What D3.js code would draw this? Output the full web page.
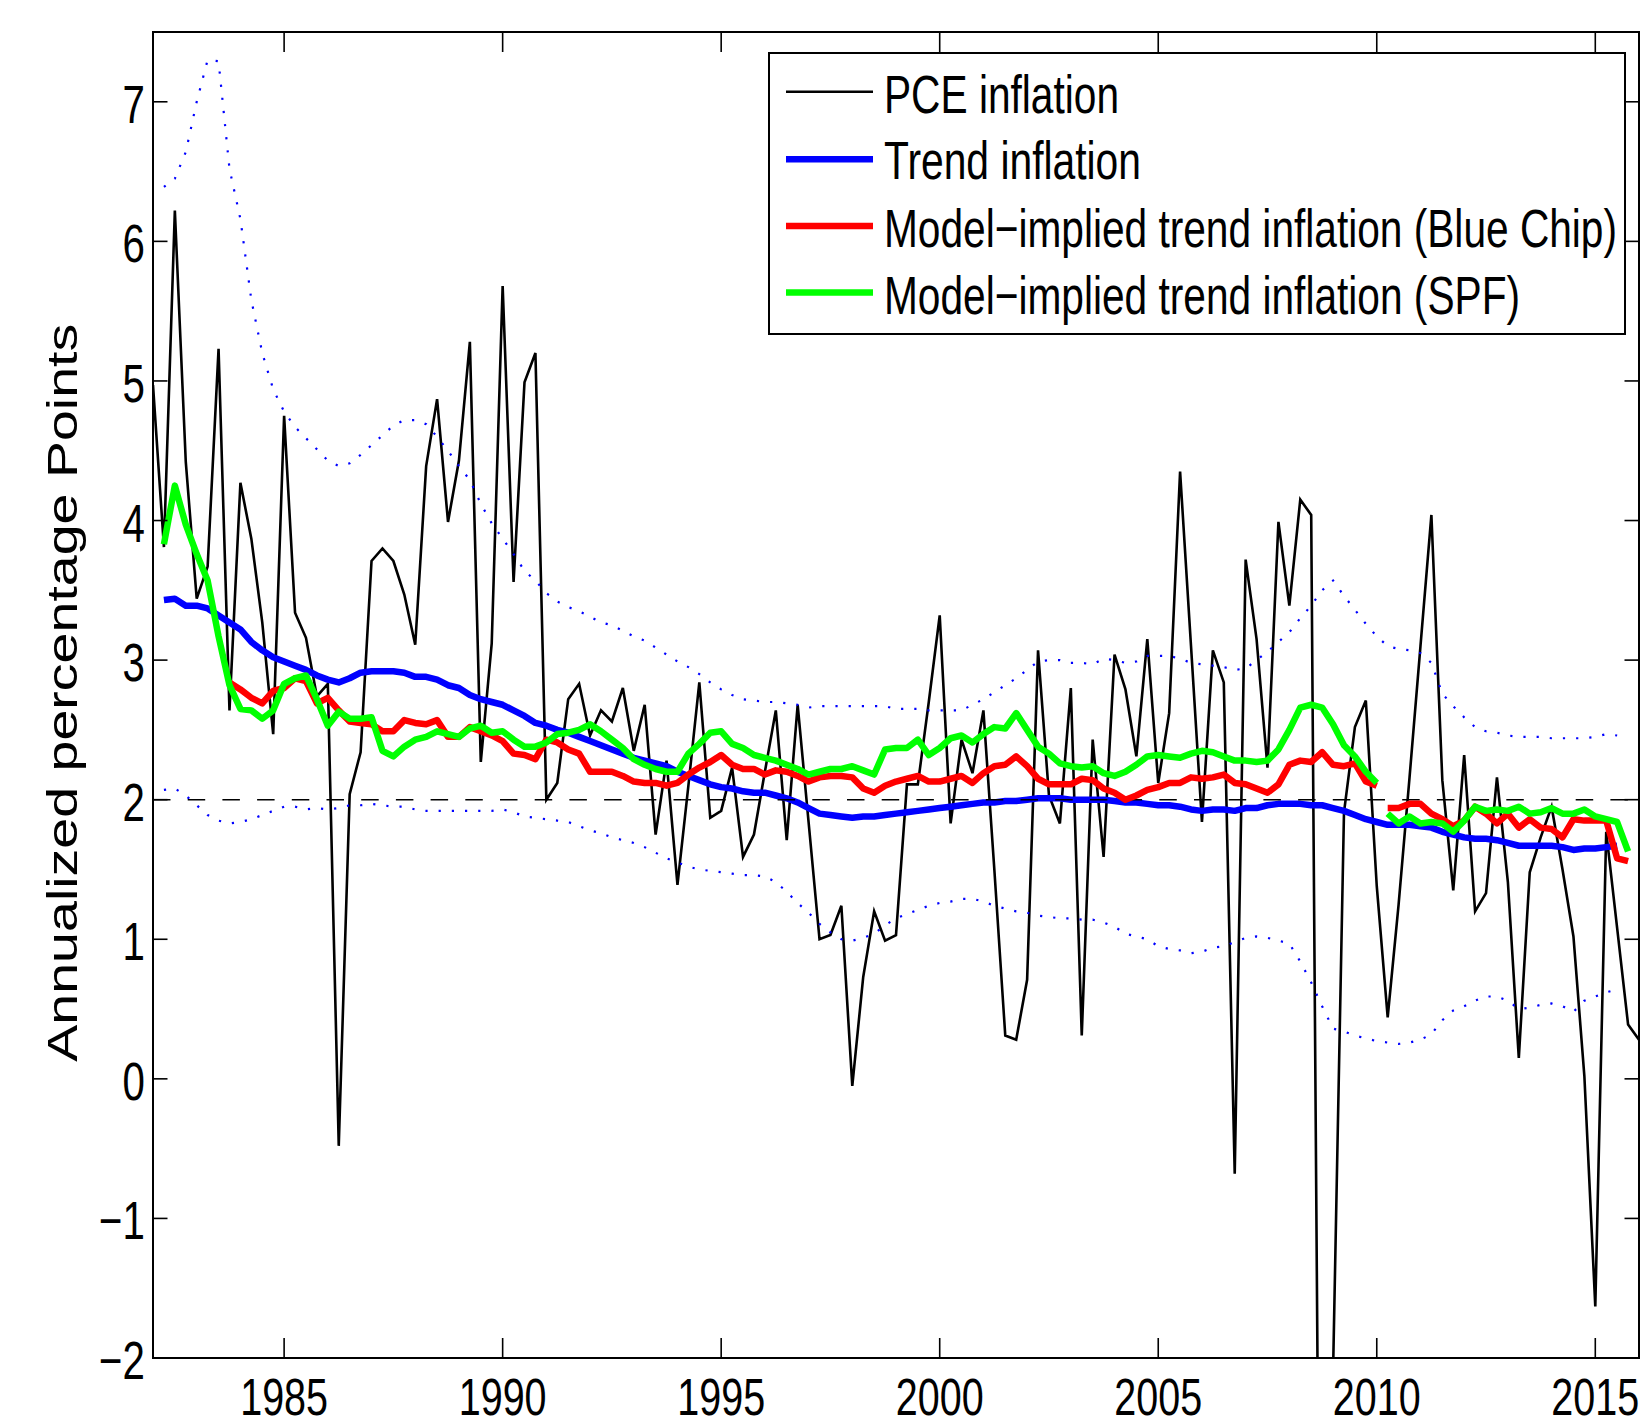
<!DOCTYPE html>
<html><head><meta charset="utf-8">
<script src="https://cdn.jsdelivr.net/npm/d3@7"></script>
<style>body{margin:0;background:#fff}svg{display:block}</style>
</head><body>
<svg id="chart" width="1645" height="1418"></svg>
<script>
// quarterly data; index 0 = 1982Q1 plotted at 1982.0
const baseYear = 1982;

// PCE inflation, quarters 0..136
const pceStart = 0;
const pce = [4.97,3.81,6.22,4.42,3.44,3.67,5.23,2.64,4.27,3.87,
3.27,2.47,4.75,3.34,3.16,2.74,2.83,-0.48,2.04,2.34,
3.71,3.80,3.71,3.47,3.11,4.39,4.87,3.99,4.43,5.28,
2.27,3.12,5.68,3.56,4.99,5.20,2.00,2.12,2.72,2.83,
2.46,2.64,2.56,2.80,2.35,2.68,1.75,2.28,1.39,2.10,
2.84,1.87,1.92,2.23,1.59,1.75,2.20,2.64,1.71,2.68,
1.84,1.00,1.03,1.24,-0.05,0.73,1.20,0.99,1.03,2.11,
2.11,2.70,3.32,1.83,2.43,2.19,2.64,1.50,0.31,0.28,
0.71,3.07,2.03,1.83,2.80,0.31,2.43,1.59,3.04,2.79,
2.31,3.15,2.12,2.62,4.35,3.10,1.84,3.07,2.84,-0.68,
3.72,3.15,2.23,3.99,3.39,4.15,4.04,-6.50,-2.10,1.91,
2.52,2.71,1.38,0.44,1.25,2.16,3.10,4.04,2.14,1.35,
2.32,1.20,1.33,2.16,1.41,0.15,1.48,1.73,1.95,1.50,
1.02,0.02,-1.63,1.77,1.08,0.39,0.28];

// Trend inflation and its bands, quarters 1..134
const trendStart = 1;
const trend = [3.43,3.44,3.39,3.39,3.37,3.32,3.27,3.22,3.13,3.07,
3.02,2.99,2.96,2.93,2.89,2.86,2.84,2.87,2.91,2.92,
2.92,2.92,2.91,2.88,2.88,2.86,2.82,2.80,2.75,2.72,
2.70,2.68,2.64,2.60,2.55,2.53,2.50,2.48,2.45,2.42,
2.39,2.36,2.33,2.30,2.28,2.26,2.24,2.20,2.17,2.14,
2.11,2.09,2.08,2.06,2.05,2.05,2.03,2.01,1.98,1.94,
1.90,1.89,1.88,1.87,1.88,1.88,1.89,1.90,1.91,1.92,
1.93,1.94,1.95,1.96,1.97,1.98,1.98,1.99,1.99,2.00,
2.01,2.01,2.01,2.00,2.00,2.00,2.00,1.99,1.98,1.98,
1.97,1.96,1.96,1.95,1.93,1.92,1.93,1.93,1.92,1.94,
1.94,1.96,1.97,1.97,1.97,1.96,1.96,1.94,1.92,1.89,
1.86,1.84,1.82,1.82,1.82,1.81,1.80,1.77,1.75,1.73,
1.72,1.72,1.71,1.69,1.67,1.67,1.67,1.67,1.66,1.64,
1.65,1.65,1.66,1.67];
const trendUpper = [6.39,6.45,6.64,7.00,7.30,7.29,6.52,6.16,5.58,5.20,
4.94,4.78,4.67,4.59,4.51,4.43,4.39,4.41,4.47,4.54,
4.61,4.68,4.72,4.72,4.69,4.60,4.50,4.39,4.29,4.12,
3.98,3.87,3.76,3.64,3.57,3.48,3.42,3.38,3.35,3.31,
3.27,3.25,3.21,3.17,3.14,3.09,3.04,2.99,2.95,2.90,
2.84,2.79,2.75,2.72,2.71,2.70,2.70,2.69,2.68,2.66,
2.67,2.67,2.67,2.67,2.67,2.67,2.67,2.65,2.65,2.65,
2.64,2.64,2.64,2.64,2.68,2.72,2.77,2.82,2.87,2.93,
2.99,3.00,3.00,2.98,2.98,2.97,3.01,3.00,2.98,2.99,
3.03,3.03,3.03,3.01,2.98,2.97,2.96,2.95,2.93,2.94,
3.00,3.06,3.13,3.20,3.30,3.39,3.50,3.57,3.46,3.36,
3.26,3.17,3.10,3.08,3.07,3.05,2.98,2.76,2.67,2.59,
2.52,2.49,2.48,2.46,2.45,2.45,2.45,2.44,2.44,2.44,
2.44,2.45,2.47,2.46];
const trendLower = [2.07,2.08,2.03,1.96,1.89,1.85,1.83,1.84,1.86,1.89,
1.92,1.95,1.95,1.93,1.94,1.93,1.94,1.96,1.96,1.97,
1.96,1.95,1.95,1.93,1.92,1.92,1.92,1.92,1.92,1.92,
1.92,1.93,1.91,1.88,1.87,1.86,1.85,1.84,1.81,1.78,
1.76,1.73,1.71,1.69,1.66,1.62,1.58,1.55,1.52,1.50,
1.49,1.48,1.47,1.46,1.46,1.45,1.41,1.34,1.26,1.19,
1.11,1.05,1.00,0.99,1.01,1.04,1.10,1.15,1.18,1.21,
1.24,1.26,1.27,1.29,1.29,1.27,1.24,1.22,1.20,1.19,
1.17,1.16,1.15,1.15,1.14,1.14,1.12,1.09,1.04,1.02,
1.00,0.95,0.93,0.92,0.90,0.91,0.94,0.95,0.98,1.01,
1.02,1.01,0.99,0.97,0.84,0.69,0.52,0.36,0.34,0.31,
0.29,0.27,0.26,0.25,0.26,0.28,0.32,0.42,0.49,0.52,
0.56,0.59,0.59,0.56,0.50,0.51,0.53,0.54,0.52,0.48,
0.56,0.59,0.62,0.64];

// Model-implied trend inflation (Blue Chip): quarters 7..112 and 113..135
const blueChipStartA = 7;
const blueChipA = [2.84,2.79,2.73,2.69,2.78,2.80,2.87,2.85,2.69,2.73,
2.64,2.56,2.55,2.54,2.49,2.49,2.57,2.55,2.54,2.57,
2.45,2.45,2.52,2.49,2.46,2.42,2.33,2.32,2.29,2.43,
2.41,2.36,2.33,2.20,2.20,2.20,2.17,2.13,2.12,2.12,
2.10,2.12,2.18,2.23,2.27,2.32,2.25,2.22,2.22,2.18,
2.21,2.20,2.17,2.13,2.16,2.17,2.17,2.16,2.08,2.05,
2.10,2.13,2.15,2.17,2.13,2.13,2.15,2.17,2.12,2.19,
2.24,2.25,2.31,2.24,2.15,2.11,2.11,2.11,2.15,2.14,
2.08,2.05,2.00,2.03,2.07,2.09,2.12,2.12,2.16,2.15,
2.16,2.18,2.12,2.11,2.08,2.05,2.11,2.25,2.28,2.27,
2.34,2.25,2.24,2.26,2.13,2.10];
const blueChipStartB = 113;
const blueChipB = [1.94,1.94,1.97,1.97,1.90,1.86,1.81,1.85,1.95,1.90,
1.83,1.90,1.80,1.86,1.80,1.79,1.73,1.86,1.85,1.85,
1.85,1.58,1.56];

// Model-implied trend inflation (SPF): quarters 1..112 and 113..135
const spfStartA = 1;
const spfA = [3.83,4.25,3.97,3.76,3.57,3.17,2.82,2.65,2.64,2.58,
2.64,2.83,2.87,2.89,2.72,2.53,2.63,2.58,2.58,2.59,
2.35,2.31,2.38,2.43,2.45,2.49,2.47,2.45,2.51,2.53,
2.48,2.49,2.43,2.38,2.38,2.41,2.47,2.48,2.50,2.54,
2.49,2.43,2.37,2.29,2.25,2.22,2.20,2.20,2.33,2.40,
2.48,2.49,2.40,2.37,2.32,2.30,2.28,2.25,2.22,2.18,
2.20,2.22,2.22,2.24,2.21,2.18,2.36,2.37,2.37,2.43,
2.32,2.37,2.44,2.46,2.41,2.47,2.52,2.51,2.62,2.50,
2.38,2.33,2.26,2.24,2.23,2.24,2.19,2.17,2.20,2.25,
2.31,2.32,2.31,2.30,2.33,2.35,2.34,2.31,2.28,2.28,
2.27,2.28,2.36,2.50,2.66,2.68,2.66,2.54,2.39,2.31,
2.20,2.12];
const spfStartB = 113;
const spfB = [1.90,1.83,1.88,1.83,1.84,1.83,1.77,1.85,1.95,1.92,
1.93,1.92,1.95,1.90,1.91,1.94,1.90,1.90,1.93,1.88,
1.86,1.84,1.63];

const targetLevel = 2;
const yTicks = [-2,-1,0,1,2,3,4,5,6,7];
const xTicks = [1985,1990,1995,2000,2005,2010,2015];
const legendLabels = ["PCE inflation","Trend inflation",
  "Model\u2212implied trend inflation (Blue Chip)","Model\u2212implied trend inflation (SPF)"];
const yTitle = "Annualized percentage Points";

// ---------- drawing ----------
const svg = d3.select("#chart");
const L = 153, R = 1639, T = 32, B = 1358;
const x = d3.scaleLinear().domain([1982, 2016]).range([L, R]);
const y = d3.scaleLinear().domain([-2, 7.5]).range([B, T]);
const FONT = "'Liberation Sans', Arial, Helvetica, sans-serif";

const toPts = (arr, start) => arr.map((v, i) => ({t: baseYear + (start + i) / 4, v}));
const line = d3.line().x(d => x(d.t)).y(d => y(d.v));

svg.append("rect").attr("width", 1645).attr("height", 1418).attr("fill", "#fff");
svg.append("defs").append("clipPath").attr("id", "plotclip")
  .append("rect").attr("x", L).attr("y", T).attr("width", R - L).attr("height", B - T);

const g = svg.append("g").attr("clip-path", "url(#plotclip)");

// PCE
g.append("path").datum(toPts(pce, pceStart)).attr("d", line)
  .attr("fill", "none").attr("stroke", "#000").attr("stroke-width", 2.6);
// trend
g.append("path").datum(toPts(trend, trendStart)).attr("d", line)
  .attr("fill", "none").attr("stroke", "#0000ff").attr("stroke-width", 6.5)
  .attr("stroke-linejoin", "round");
// bands
[trendUpper, trendLower].forEach(arr => {
  g.append("path").datum(toPts(arr, trendStart)).attr("d", line)
    .attr("fill", "none").attr("stroke", "#0000ff").attr("stroke-width", 2.2)
    .attr("stroke-dasharray", "2.2,11");
});
// 2% line
g.append("line").attr("x1", x(1982)).attr("x2", x(2016))
  .attr("y1", y(targetLevel)).attr("y2", y(targetLevel))
  .attr("stroke", "#000").attr("stroke-width", 1.6).attr("stroke-dasharray", "17.5,17.2");
// Blue Chip
[[blueChipA, blueChipStartA], [blueChipB, blueChipStartB]].forEach(([arr, s]) => {
  g.append("path").datum(toPts(arr, s)).attr("d", line)
    .attr("fill", "none").attr("stroke", "#ff0000").attr("stroke-width", 6.5)
    .attr("stroke-linejoin", "round");
});
// SPF
[[spfA, spfStartA], [spfB, spfStartB]].forEach(([arr, s]) => {
  g.append("path").datum(toPts(arr, s)).attr("d", line)
    .attr("fill", "none").attr("stroke", "#00ff00").attr("stroke-width", 6.5)
    .attr("stroke-linejoin", "round");
});

// frame and ticks
const ax = svg.append("g");
ax.append("rect").attr("x", L).attr("y", T).attr("width", R - L).attr("height", B - T)
  .attr("fill", "none").attr("stroke", "#000").attr("stroke-width", 2);
yTicks.forEach(v => {
  ax.append("line").attr("x1", L).attr("x2", L + 14.5).attr("y1", y(v)).attr("y2", y(v))
    .attr("stroke", "#000").attr("stroke-width", 1.6);
  ax.append("line").attr("x1", R - 14.5).attr("x2", R).attr("y1", y(v)).attr("y2", y(v))
    .attr("stroke", "#000").attr("stroke-width", 1.6);
  ax.append("text").attr("transform", `translate(145,${y(v) + 21}) scale(0.76,1)`)
    .attr("text-anchor", "end").attr("font-family", FONT).attr("font-size", 53)
    .text(v < 0 ? "\u2212" + Math.abs(v) : String(v));
});
xTicks.forEach(t => {
  ax.append("line").attr("x1", x(t)).attr("x2", x(t)).attr("y1", B).attr("y2", B - 20)
    .attr("stroke", "#000").attr("stroke-width", 1.6);
  ax.append("line").attr("x1", x(t)).attr("x2", x(t)).attr("y1", T).attr("y2", T + 20)
    .attr("stroke", "#000").attr("stroke-width", 1.6);
  ax.append("text").attr("transform", `translate(${x(t)},1415) scale(0.76,1)`)
    .attr("text-anchor", "middle").attr("font-family", FONT).attr("font-size", 52)
    .text(String(t));
});

// y title
svg.append("text").attr("transform", "translate(77,692.7) rotate(-90)")
  .attr("text-anchor", "middle").attr("font-family", FONT).attr("font-size", 43)
  .attr("textLength", 738).attr("lengthAdjust", "spacingAndGlyphs")
  .text(yTitle);

// legend
const lg = svg.append("g");
lg.append("rect").attr("x", 769).attr("y", 53).attr("width", 856).attr("height", 281)
  .attr("fill", "#fff").attr("stroke", "#000").attr("stroke-width", 2);
const legColors = ["#000", "#0000ff", "#ff0000", "#00ff00"];
const legWidths = [2.4, 6.5, 6.5, 6.5];
const legRowY = [91.8, 159.3, 225.9, 292.5];
const legBase = [112.5, 179, 246.6, 313.6];
const legLen = [235, 257, 733, 636];
legendLabels.forEach((lab, i) => {
  lg.append("line").attr("x1", 786).attr("x2", 873).attr("y1", legRowY[i]).attr("y2", legRowY[i])
    .attr("stroke", legColors[i]).attr("stroke-width", legWidths[i]);
  lg.append("text").attr("x", 884).attr("y", legBase[i])
    .attr("font-family", FONT).attr("font-size", 54)
    .attr("textLength", legLen[i]).attr("lengthAdjust", "spacingAndGlyphs")
    .text(lab);
});
</script>
</body></html>
